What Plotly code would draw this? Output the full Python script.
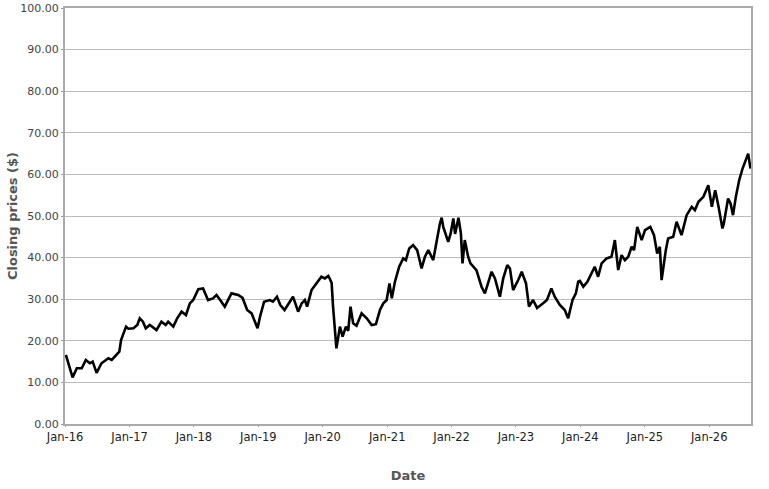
import plotly.graph_objects as go

# closing prices
dates = [
    "2016-01-06", "2016-01-25", "2016-02-13", "2016-03-08", "2016-04-05", "2016-04-28",
    "2016-05-21", "2016-06-06", "2016-06-28", "2016-07-26", "2016-09-03", "2016-09-22",
    "2016-10-20", "2016-11-04", "2016-11-14", "2016-11-30", "2016-12-12", "2016-12-25",
    "2017-01-23", "2017-02-14", "2017-02-28", "2017-03-18", "2017-04-03", "2017-04-26",
    "2017-06-03", "2017-07-01", "2017-07-25", "2017-08-08", "2017-09-06", "2017-09-28",
    "2017-10-23", "2017-11-17", "2017-12-09", "2017-12-28", "2018-01-26", "2018-02-22",
    "2018-03-22", "2018-04-19", "2018-05-09", "2018-06-06", "2018-06-25", "2018-08-02",
    "2018-09-09", "2018-10-04", "2018-10-30", "2018-11-24", "2018-12-18", "2018-12-28",
    "2019-01-11", "2019-02-03", "2019-03-07", "2019-03-25", "2019-04-17", "2019-05-06",
    "2019-05-30", "2019-06-24", "2019-07-17", "2019-08-15", "2019-09-04", "2019-09-22",
    "2019-10-05", "2019-10-30", "2019-11-27", "2019-12-25", "2020-01-14", "2020-02-02",
    "2020-02-12", "2020-02-21", "2020-02-29", "2020-03-10", "2020-03-19", "2020-04-08",
    "2020-04-23", "2020-05-12", "2020-05-25", "2020-06-07", "2020-06-22", "2020-07-11",
    "2020-08-09", "2020-09-07", "2020-10-05", "2020-10-29", "2020-11-21", "2020-12-10",
    "2020-12-29", "2021-01-14", "2021-01-27", "2021-02-14", "2021-03-10", "2021-04-02",
    "2021-04-17", "2021-05-06", "2021-05-28", "2021-06-20", "2021-07-15", "2021-08-03",
    "2021-08-22", "2021-09-19", "2021-10-09", "2021-10-27", "2021-11-06", "2021-11-15",
    "2021-12-13", "2021-12-27", "2022-01-11", "2022-01-21", "2022-02-09", "2022-02-23",
    "2022-03-04", "2022-03-17", "2022-04-05", "2022-04-18", "2022-05-22", "2022-06-20",
    "2022-07-09", "2022-07-27", "2022-08-16", "2022-09-04", "2022-10-02", "2022-10-21",
    "2022-11-13", "2022-11-28", "2022-12-16", "2023-01-14", "2023-02-03", "2023-02-27",
    "2023-03-16", "2023-04-08", "2023-05-01", "2023-06-04", "2023-06-26", "2023-07-21",
    "2023-08-09", "2023-09-07", "2023-10-05", "2023-10-24", "2023-11-18", "2023-12-07",
    "2023-12-20", "2023-12-30", "2024-01-18", "2024-02-10", "2024-03-05", "2024-03-23",
    "2024-04-11", "2024-05-01", "2024-05-29", "2024-06-26", "2024-07-15", "2024-08-03",
    "2024-08-22", "2024-09-10", "2024-09-29", "2024-10-18", "2024-11-01", "2024-11-19",
    "2024-12-14", "2025-01-02", "2025-02-01", "2025-02-22", "2025-03-12", "2025-03-27",
    "2025-04-06", "2025-04-19", "2025-04-30", "2025-05-13", "2025-06-11", "2025-06-30",
    "2025-07-28", "2025-08-26", "2025-09-24", "2025-10-12", "2025-11-01", "2025-11-29",
    "2025-12-27", "2026-01-16", "2026-02-04", "2026-02-23", "2026-03-17", "2026-03-25",
    "2026-04-18", "2026-05-02", "2026-05-16", "2026-06-01", "2026-06-20", "2026-07-09",
    "2026-08-01", "2026-08-10", "2026-08-23",
]
closing = [
    16.6, 13.8, 11.2, 13.4, 13.4, 15.4,
    14.6, 15.0, 12.3, 14.6, 15.8, 15.4,
    16.6, 17.4, 20.2, 22.2, 23.4, 22.9,
    23.0, 23.8, 25.4, 24.6, 23.0, 23.8,
    22.6, 24.6, 23.8, 24.6, 23.4, 25.4,
    27.0, 26.2, 29.0, 29.8, 32.4, 32.6,
    29.8, 30.2, 31.0, 29.4, 28.2, 31.4,
    31.0, 30.3, 27.4, 26.6, 24.2, 23.0,
    25.8, 29.4, 29.8, 29.4, 30.6, 28.6,
    27.4, 29.0, 30.6, 27.0, 29.0, 29.8,
    28.2, 32.2, 33.8, 35.4, 35.0, 35.6,
    34.8, 33.9, 28.2, 21.8, 18.2, 23.4,
    21.0, 23.4, 22.4, 28.2, 24.2, 23.6,
    26.6, 25.4, 23.8, 24.0, 27.4, 29.0,
    29.8, 33.8, 30.2, 34.2, 37.8, 39.8,
    39.4, 42.2, 43.0, 41.8, 37.4, 40.2,
    41.8, 39.4, 44.2, 48.2, 49.6, 47.4,
    43.8, 45.8, 49.4, 45.7, 49.6, 45.8,
    38.6, 44.2, 40.2, 38.6, 37.0, 33.0,
    31.4, 33.8, 36.6, 35.0, 30.6, 35.0,
    38.2, 37.4, 32.2, 34.6, 36.6, 33.8,
    28.2, 29.8, 27.9, 29.0, 29.8, 32.6,
    30.6, 28.6, 27.4, 25.4, 29.8, 31.4,
    34.2, 34.4, 33.0, 34.2, 36.2, 37.8,
    35.4, 38.6, 39.8, 40.2, 44.2, 37.0,
    40.6, 39.4, 40.2, 42.6, 41.8, 47.4,
    44.2, 46.6, 47.4, 45.4, 41.0, 42.6,
    34.6, 38.6, 41.8, 44.6, 45.0, 48.6,
    45.4, 50.2, 52.2, 51.4, 53.4, 54.6,
    57.4, 52.2, 56.2, 52.2, 47.0, 48.2,
    54.2, 53.0, 50.2, 54.6, 58.6, 61.4,
    63.8, 65.0, 61.4,
]
tick_dates = ["2016-01-01", "2017-01-01", "2018-01-01", "2019-01-01", "2020-01-01", "2021-01-01",
              "2022-01-01", "2023-01-01", "2024-01-01", "2025-01-01", "2026-01-01"]
tick_labels = ["Jan-16", "Jan-17", "Jan-18", "Jan-19", "Jan-20", "Jan-21",
               "Jan-22", "Jan-23", "Jan-24", "Jan-25", "Jan-26"]

fig = go.Figure()
fig.add_trace(go.Scatter(x=dates, y=closing, mode='lines', line=dict(color='black', width=2.6), showlegend=False))

title_font = dict(family='DejaVu Sans', size=13, color='#555555', weight='bold')

fig.update_xaxes(range=["2016-01-01", "2026-08-26"],
                 tickvals=tick_dates, ticktext=tick_labels,
                 tickfont=dict(family='DejaVu Sans', size=11.5, color='#222222'),
                 ticks='outside', ticklen=1, tickcolor='#999999',
                 showline=True, linecolor='#aaaaaa', linewidth=2, mirror=True,
                 showgrid=False, zeroline=False,
                 title=dict(text='Date', font=title_font, standoff=28))
fig.update_yaxes(range=[0, 100], dtick=10, tickformat='.2f',
                 tickfont=dict(family='DejaVu Sans', size=11, color='#444444'),
                 ticks='outside', ticklen=2, tickcolor='#999999',
                 showline=True, linecolor='#aaaaaa', linewidth=2, mirror=True,
                 showgrid=True, gridcolor='#bbbbbb', gridwidth=1, zeroline=False,
                 title=dict(text='Closing prices ($)', font=title_font, standoff=0))

fig.update_layout(width=769, height=489, plot_bgcolor='white', paper_bgcolor='white',
                  margin=dict(l=65, r=18, t=8, b=65, autoexpand=False))

# drop the page's default body margin so the figure fills the window
fig.write_html("out.html", config={'displayModeBar': False},
               post_script="document.body.style.margin = '0px';")
